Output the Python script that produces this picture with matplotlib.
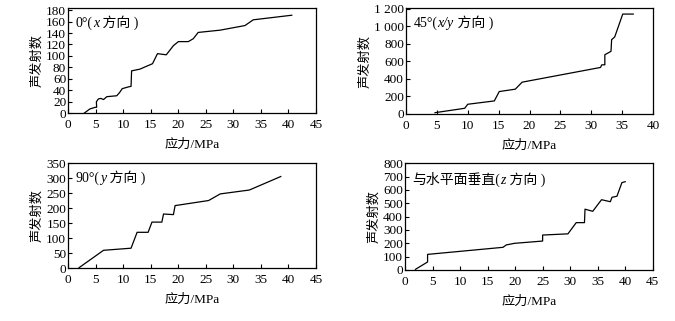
import numpy as np
import matplotlib
matplotlib.use('Agg')
import matplotlib.pyplot as plt

plt.rcParams['font.family'] = ['Liberation Serif', 'Noto Sans CJK SC']
plt.rcParams['font.size'] = 8

# 0° (x direction)
x1 = [2.85, 3.9, 4.85, 5.15, 5.1, 5.45, 5.9, 6.4, 7.0, 8.8, 9.3, 9.8, 10.9, 11.4, 11.5,
      13.0, 15.3, 16.2, 17.8, 19.1, 20.0, 21.8, 22.7, 23.6, 27.6, 32.1, 33.6, 40.6]
y1 = [0, 7.5, 10.4, 10.5, 20, 25, 26, 24, 29, 30.6, 36, 43, 46, 47, 74,
      77, 86.5, 104, 102, 118, 125, 125, 130, 141, 145, 153, 163, 171]

# 45° (x/y direction)
x2 = [4.7, 9.5, 10.0, 14.3, 15.1, 17.7, 18.8, 31.5, 31.7, 32.2, 32.2, 33.2, 33.3, 33.8, 35.1, 36.8]
y2 = [15, 65, 111, 149, 256, 283, 363, 531, 561, 561, 676, 715, 848, 879, 1140, 1140]

# 90° (y direction)
x3 = [1.95, 6.4, 11.4, 12.5, 14.5, 15.2, 17.0, 17.3, 19.1, 19.4, 25.5, 27.6, 32.9, 38.6]
y3 = [2, 60, 67, 120, 120, 154, 154, 181, 179, 209, 226, 248, 261, 306]

# vertical (z direction)
x4 = [1.9, 4.1, 4.1, 17.8, 18.4, 19.9, 25.0, 25.0, 29.6, 31.1, 32.6, 32.7, 34.1,
      35.7, 37.3, 37.6, 38.5, 39.4, 40.0]
y4 = [5, 60, 117, 170, 188, 200, 217, 262, 271, 355, 355, 456, 440,
      527, 512, 545, 553, 655, 662]

# title pieces: (text, italic?)
titles = [[('0°(', False), ('x', True), (' 方向 )', False)],
          [('45°(', False), ('x/y', True), (' 方向 )', False)],
          [('90°(', False), ('y', True), (' 方向 )', False)],
          [('与水平面垂直(', False), ('z', True), (' 方向 )', False)]]
xticks = [[0, 5, 10, 15, 20, 25, 30, 35, 40, 45],
          [0, 5, 10, 15, 20, 25, 30, 35, 40],
          [0, 5, 10, 15, 20, 25, 30, 35, 40, 45],
          [0, 5, 10, 15, 20, 25, 30, 35, 40, 45]]
yticks = [[0, 20, 40, 60, 80, 100, 120, 140, 160, 180],
          [0, 200, 400, 600, 800, 1000, 1200],
          [0, 50, 100, 150, 200, 250, 300, 350],
          [0, 100, 200, 300, 400, 500, 600, 700, 800]]
ytick_labels = [None, ['0', '200', '400', '600', '800', '1 000', '1 200'], None, None]
ylims = [183, 1205, 350, 800]

positions = [[0.1012, 0.647, 0.3669, 0.327],
             [0.6015, 0.6449, 0.3659, 0.329],
             [0.1012, 0.1642, 0.3669, 0.327],
             [0.6000, 0.1589, 0.3670, 0.3324]]

fig = plt.figure(figsize=(6.75, 3.21), dpi=100)
data = [(x1, y1), (x2, y2), (x3, y3), (x4, y4)]
for i in range(4):
    ax = fig.add_axes(positions[i])
    ax.plot(data[i][0], data[i][1], color='black', lw=0.9)
    ax.set_xlim(0, xticks[i][-1])
    ax.set_ylim(0, ylims[i])
    ax.set_xticks(xticks[i])
    ax.set_yticks(yticks[i])
    if ytick_labels[i]:
        ax.set_yticklabels(ytick_labels[i])
    ax.tick_params(direction='in', length=3, width=0.8, labelsize=9.5)
    ax.tick_params(axis='x', pad=4)
    ax.tick_params(axis='y', pad=1.5)
    for s in ax.spines.values():
        s.set_linewidth(0.9)
    ax.set_xlabel('应力/MPa', fontsize=9.5, labelpad=6)
    ax.set_ylabel('声发射数', fontsize=9.5, labelpad=2)

    parts = titles[i]
    t = ax.text(0.03, 0.92, parts[0][0], transform=ax.transAxes, fontsize=10,
                va='top', ha='left')
    for s, it in parts[1:]:
        t = ax.annotate(s, xy=(1, 0), xycoords=t, va='bottom', ha='left', fontsize=10,
                        style='italic' if it else 'normal')

fig.savefig('out.png', dpi=100)
